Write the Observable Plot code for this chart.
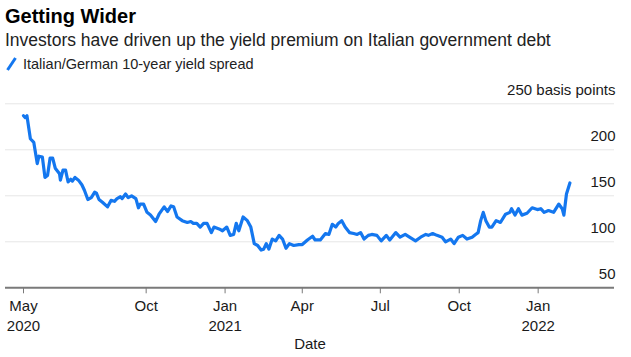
<!DOCTYPE html>
<html><head><meta charset="utf-8">
<script src="https://cdn.jsdelivr.net/npm/d3@7"></script>
<script src="https://cdn.jsdelivr.net/npm/@observablehq/plot@0.6"></script>
<style>
body{margin:0;background:#fff;font-family:"Liberation Sans",Arial,sans-serif;}
#header{position:relative;width:631px;height:78px;}
#title{position:absolute;left:5px;top:6px;font-size:20px;line-height:1;font-weight:bold;color:#000;white-space:nowrap;}
#subtitle{position:absolute;left:5px;top:32px;font-size:17.5px;line-height:1;color:#222;white-space:nowrap;}
#legend{position:absolute;left:5px;top:56px;font-size:14.5px;line-height:1;color:#222;white-space:nowrap;}
#legend svg{position:absolute;left:0;top:0;}
#legend span{position:absolute;left:18px;top:1px;}
#chart svg{display:block;}
</style></head><body>
<div id="header">
  <div id="title">Getting Wider</div>
  <div id="subtitle">Investors have driven up the yield premium on Italian government debt</div>
  <div id="legend"><svg width="14" height="16"><line x1="2.5" y1="14" x2="10.5" y2="2" stroke="#1477ef" stroke-width="3" stroke-linecap="butt"/></svg><span>Italian/German 10-year yield spread</span></div>
</div>
<div id="chart"></div>
<script>
const dates = ["2020-05-11","2020-05-13","2020-05-15","2020-05-19","2020-05-23","2020-05-27","2020-05-29","2020-06-02","2020-06-05","2020-06-08","2020-06-11","2020-06-14","2020-06-17","2020-06-22","2020-06-23","2020-06-26","2020-06-29","2020-07-02","2020-07-05","2020-07-07","2020-07-10","2020-07-14","2020-07-18","2020-07-21","2020-07-25","2020-07-29","2020-08-02","2020-08-04","2020-08-07","2020-08-11","2020-08-17","2020-08-21","2020-08-25","2020-08-28","2020-09-01","2020-09-03","2020-09-07","2020-09-10","2020-09-14","2020-09-19","2020-09-22","2020-09-24","2020-09-28","2020-10-02","2020-10-06","2020-10-12","2020-10-16","2020-10-22","2020-10-26","2020-10-30","2020-11-02","2020-11-06","2020-11-12","2020-11-18","2020-11-22","2020-11-25","2020-11-29","2020-12-03","2020-12-07","2020-12-11","2020-12-16","2020-12-19","2020-12-25","2020-12-29","2021-01-03","2021-01-07","2021-01-11","2021-01-14","2021-01-17","2021-01-22","2021-01-27","2021-01-31","2021-02-04","2021-02-08","2021-02-12","2021-02-15","2021-02-18","2021-02-21","2021-02-25","2021-03-01","2021-03-05","2021-03-09","2021-03-13","2021-03-17","2021-03-22","2021-03-28","2021-04-01","2021-04-07","2021-04-13","2021-04-16","2021-04-22","2021-04-28","2021-05-02","2021-05-06","2021-05-10","2021-05-13","2021-05-17","2021-05-21","2021-05-26","2021-05-31","2021-06-04","2021-06-08","2021-06-12","2021-06-17","2021-06-21","2021-06-27","2021-07-02","2021-07-08","2021-07-12","2021-07-19","2021-07-24","2021-07-30","2021-08-04","2021-08-11","2021-08-17","2021-08-23","2021-08-26","2021-08-31","2021-09-05","2021-09-11","2021-09-15","2021-09-21","2021-09-25","2021-09-30","2021-10-05","2021-10-10","2021-10-16","2021-10-20","2021-10-23","2021-10-26","2021-10-29","2021-11-01","2021-11-05","2021-11-08","2021-11-13","2021-11-18","2021-11-24","2021-11-29","2021-12-01","2021-12-05","2021-12-09","2021-12-13","2021-12-19","2021-12-25","2021-12-31","2022-01-04","2022-01-08","2022-01-13","2022-01-19","2022-01-25","2022-01-29","2022-01-31","2022-02-03","2022-02-07"];
const spread = [237,235,237,212,208,185,193,192,170,172,191,191,180,174,167,178,178,165,168,166,170,167,162,156,146,148,154,153,146,143,138,145,144,147,149,147,152,148,150,147,137,141,141,132,129,122,130,138,133,139,138,127,123,121,122,120,120,116,120,120,110,116,114,112,116,107,108,120,112,127,123,116,98,96,91,92,98,92,103,101,107,103,93,98,96,97,97,102,106,102,102,109,108,119,116,120,123,116,110,109,108,110,103,107,108,107,101,107,102,110,105,108,105,101,105,108,107,109,107,105,100,103,98,105,107,103,105,108,110,123,132,123,116,116,123,121,130,132,136,129,136,129,131,137,135,136,132,134,132,141,136,129,152,164];
const yTicks = [50, 100, 150, 200, 250];
const yTickLabels = ["50", "100", "150", "200", "250 basis points"];
const gridValues = [100, 150, 200, 250];
const xTickDates = ["2020-05-11","2020-10-01","2021-01-01","2021-04-01","2021-07-01","2021-10-01","2022-01-01"];
const xMonthLabels = ["May","Oct","Jan","Apr","Jul","Oct","Jan"];
const xYearDates = ["2020-05-11","2021-01-01","2022-01-01"];
const xYearLabels = ["2020","2021","2022"];
const xDomain = ["2020-04-20","2022-03-31"];

const n = Math.min(dates.length, spread.length);
const data = d3.range(n).map(i => ({date: new Date(dates[i]), value: spread[i]}));
const xt = xTickDates.map(d => new Date(d));
const yt = xYearDates.map(d => new Date(d));
const fmtMonth = d => xMonthLabels[xt.findIndex(t => +t === +d)];
const fmtYear = d => xYearLabels[yt.findIndex(t => +t === +d)];
const fmtY = d => yTickLabels[yTicks.indexOf(d)];

const chart = Plot.plot({
  width: 631,
  height: 279,
  marginTop: 25.3,
  marginBottom: 69.7,
  marginLeft: 5,
  marginRight: 17,
  style: {fontFamily: '"Liberation Sans", Arial, sans-serif', background: "#fff"},
  x: {type: "utc", domain: xDomain.map(d => new Date(d))},
  y: {domain: [50, 250]},
  marks: [
    Plot.gridY(gridValues, {stroke: "#e6e6e6", strokeOpacity: 1, strokeWidth: 1}),
    Plot.ruleY([50], {stroke: "#7a7a7a", strokeWidth: 2}),
    Plot.axisX(xt, {tickSize: 6, tickFormat: () => "", stroke: "#7a7a7a", label: null}),
    Plot.axisX(xt, {tickSize: 0, tickPadding: 12.5, tickFormat: fmtMonth, fontSize: 15, fill: "#1a1a1a", label: null}),
    Plot.axisX(yt, {tickSize: 0, tickPadding: 33, tickFormat: fmtYear, fontSize: 15, fill: "#1a1a1a", label: null}),
    Plot.text(["Date"], {frameAnchor: "bottom", dy: 61.5, fontSize: 15, fill: "#1a1a1a"}),
    Plot.axisY(yTicks, {anchor: "right", tickSize: 0, tickPadding: 1, textAnchor: "end", dy: -14, fontSize: 15, fill: "#1a1a1a", tickFormat: fmtY, label: null}),
    Plot.lineY(data, {x: "date", y: "value", stroke: "#1477ef", strokeWidth: 3.2, strokeLinejoin: "round", strokeLinecap: "round"})
  ]
});
document.getElementById("chart").appendChild(chart);
</script>
</body></html>
